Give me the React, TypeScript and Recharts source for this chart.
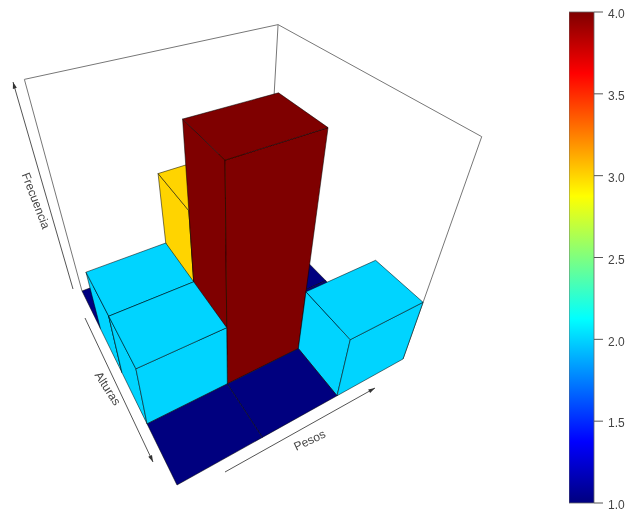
import React from 'react';
import { Bar, BarChart, Scatter, ScatterChart, XAxis, YAxis } from 'recharts';

const WIDTH = 629;
const HEIGHT = 511;

// frequency per bin, rows run along Alturas (back to front), columns along Pesos
const alturaBins = [0, 0.25, 0.5, 0.75, 1];
const pesoBins = [0, 1 / 3, 2 / 3, 1];
const frecuencias = [
    [1, 1, 1],
    [2, 3, 1],
    [2, 4, 1],
    [1, 1, 2],
];
const zMin = 1;
const zMax = 4;

const colorbarTicks = [1, 1.5, 2, 2.5, 3, 3.5, 4];
const colorbarData = [{ name: 'z', value: zMax }];
const jetRamp = ['#00007F', '#0000FF', '#007FFF', '#00FFFF', '#7FFF7F', '#FFFF00', '#FF7F00', '#FF0000', '#7F0000'];

// camera: where the floor corners land on the page, and where verticals converge
const floorCorners = [[82, 291], [267, 221], [403, 359], [177, 485]];
const verticalVanish = [232, 842];
const heightStrength = 0.0925;

const axisArrows = [
    { name: 'frecuencia', from: [73, 289], to: [13, 82] },
    { name: 'alturas', from: [85, 318], to: [153, 462] },
    { name: 'pesos', from: [225, 472], to: [375, 388] },
];
const axisLabels = [
    { text: 'Frecuencia', at: [35, 201], angle: 69 },
    { text: 'Alturas', at: [107, 389], angle: 57 },
    { text: 'Pesos', at: [310, 441], angle: -25 },
];

const homography = () => {
    const [[x0, y0], [x1, y1], [x2, y2], [x3, y3]] = floorCorners;
    const dx1 = x1 - x2, dx2 = x3 - x2, sx = x0 - x1 + x2 - x3;
    const dy1 = y1 - y2, dy2 = y3 - y2, sy = y0 - y1 + y2 - y3;
    const den = dx1 * dy2 - dx2 * dy1;
    const g = (sx * dy2 - dx2 * sy) / den;
    const h = (dx1 * sy - sx * dy1) / den;
    return {
        a: x1 - x0 + g * x1, b: x3 - x0 + h * x3, c: x0,
        d: y1 - y0 + g * y1, e: y3 - y0 + h * y3, f: y0,
        g, h,
    };
};
const H = homography();

// u along Pesos, v along Alturas, z in data units
const project = (u: number, v: number, z: number) => {
    const t = (z - zMin) * -heightStrength;
    const w = H.g * u + H.h * v + 1 + t;
    return {
        x: (H.a * u + H.b * v + H.c + t * verticalVanish[0]) / w,
        y: (H.d * u + H.e * v + H.f + t * verticalVanish[1]) / w,
    };
};

const jetColor = (z: number) => {
    const pos = ((z - zMin) / (zMax - zMin)) * (jetRamp.length - 1);
    const i = Math.min(Math.floor(pos), jetRamp.length - 2);
    const mix = pos - i;
    const part = (hex: string, at: number) => parseInt(hex.slice(at, at + 2), 16);
    const channel = (at: number) => Math.round(part(jetRamp[i], at) * (1 - mix) + part(jetRamp[i + 1], at) * mix);
    return `rgb(${channel(1)},${channel(3)},${channel(5)})`;
};

interface Face {
    key: string;
    color: string;
    points: { x: number; y: number }[];
}

// painter's order: back row first, far column first
const buildFaces = () => {
    const faces: Face[] = [];
    frecuencias.forEach((row, r) => {
        for (let c = row.length - 1; c >= 0; c--) {
            const z = row[c];
            const u0 = pesoBins[c], u1 = pesoBins[c + 1];
            const v0 = alturaBins[r], v1 = alturaBins[r + 1];
            const color = jetColor(z);
            if (z > zMin) {
                faces.push({
                    key: `left-${r}-${c}`, color,
                    points: [project(u0, v0, zMin), project(u0, v1, zMin), project(u0, v1, z), project(u0, v0, z)],
                });
                faces.push({
                    key: `front-${r}-${c}`, color,
                    points: [project(u0, v1, zMin), project(u1, v1, zMin), project(u1, v1, z), project(u0, v1, z)],
                });
            }
            faces.push({
                key: `top-${r}-${c}`, color,
                points: [project(u0, v0, z), project(u1, v0, z), project(u1, v1, z), project(u0, v1, z)],
            });
        }
    });
    return faces;
};

const boxLines = [
    [project(0, 0, zMin), project(0, 0, zMax), project(1, 0, zMax), project(1, 1, zMax), project(1, 1, zMin)],
    [project(1, 0, zMax), project(1, 0, zMin)],
];

const noPoint = () => <g />;

const polygonLine = (color: string) => (props: any) => (
    <polygon
        points={props.points.map((p: any) => `${p.x},${p.y}`).join(' ')}
        fill={color}
        stroke="#000"
        strokeOpacity={0.65}
        strokeWidth={0.8}
        strokeLinejoin="round"
    />
);

const arrowLine = (props: any) => {
    const [a, b] = props.points;
    const angle = Math.atan2(b.y - a.y, b.x - a.x);
    const head = (side: number) =>
        `${b.x - 7 * Math.cos(angle + side * 0.3)},${b.y - 7 * Math.sin(angle + side * 0.3)}`;
    return (
        <g>
            <line x1={a.x} y1={a.y} x2={b.x} y2={b.y} stroke="#555" strokeWidth={1} />
            <polygon points={`${b.x},${b.y} ${head(1)} ${head(-1)}`} fill="#333" />
        </g>
    );
};

const labelShape = (text: string, angle: number) => (props: any) => (
    <text
        x={props.cx}
        y={props.cy}
        transform={`rotate(${angle} ${props.cx} ${props.cy})`}
        textAnchor="middle"
        dominantBaseline="middle"
        fontFamily="'Liberation Sans', sans-serif"
        fontSize={12}
        fill="#444"
    >
        {text}
    </text>
);

const App: React.FC = () => {
    const faces = buildFaces();

    return (
        <div style={{ position: 'absolute', left: 0, top: 0, width: WIDTH, height: HEIGHT, filter: 'blur(0.5px)' }}>
            <ScatterChart width={WIDTH} height={HEIGHT} margin={{ top: 0, right: 0, bottom: 0, left: 0 }}>
                <XAxis type="number" dataKey="x" domain={[0, WIDTH]} hide allowDataOverflow />
                <YAxis type="number" dataKey="y" domain={[0, HEIGHT]} reversed hide allowDataOverflow />
                {boxLines.map((points, i) => (
                    <Scatter
                        key={`box-${i}`}
                        data={points}
                        shape={noPoint}
                        line={{ stroke: '#777', strokeWidth: 1 }}
                        isAnimationActive={false}
                    />
                ))}
                {axisArrows.map(arrow => (
                    <Scatter
                        key={arrow.name}
                        data={[arrow.from, arrow.to].map(([x, y]) => ({ x, y }))}
                        shape={noPoint}
                        line={arrowLine}
                        isAnimationActive={false}
                    />
                ))}
                {faces.map(face => (
                    <Scatter
                        key={face.key}
                        data={face.points}
                        shape={noPoint}
                        line={polygonLine(face.color)}
                        isAnimationActive={false}
                    />
                ))}
                {axisLabels.map(label => (
                    <Scatter
                        key={label.text}
                        data={[{ x: label.at[0], y: label.at[1] }]}
                        shape={labelShape(label.text, label.angle)}
                        isAnimationActive={false}
                    />
                ))}
            </ScatterChart>

            <div style={{ position: 'absolute', left: 569, top: 0 }}>
                <BarChart
                    width={60}
                    height={HEIGHT}
                    data={colorbarData}
                    margin={{ top: 12, right: 0, bottom: 8, left: 0 }}
                    barCategoryGap={0}
                >
                    <defs>
                        <linearGradient id="jet" x1="0" y1="1" x2="0" y2="0">
                            {jetRamp.map((color, i) => (
                                <stop key={color} offset={i / (jetRamp.length - 1)} stopColor={color} />
                            ))}
                        </linearGradient>
                    </defs>
                    <XAxis dataKey="name" hide />
                    <YAxis
                        orientation="right"
                        width={35}
                        domain={[zMin, zMax]}
                        ticks={colorbarTicks}
                        interval={0}
                        tickFormatter={(value: number) => value.toFixed(1)}
                        tick={{ fontFamily: "'Liberation Sans', sans-serif", fontSize: 12, fill: '#444', dy: 2 }}
                        tickSize={9}
                        tickMargin={5}
                        axisLine={false}
                        tickLine={{ stroke: '#555' }}
                    />
                    <Bar dataKey="value" fill="url(#jet)" stroke="#666" strokeWidth={0.8} isAnimationActive={false} />
                </BarChart>
            </div>
        </div>
    );
};

export default App;
